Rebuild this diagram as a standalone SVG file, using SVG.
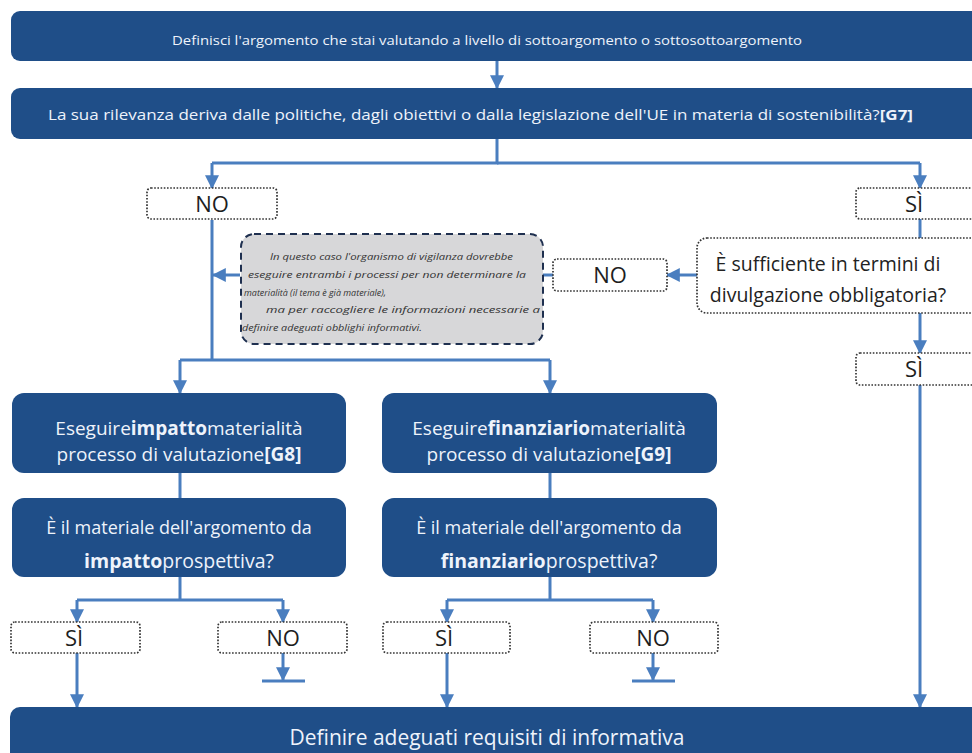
<svg xmlns="http://www.w3.org/2000/svg" width="972" height="753" viewBox="0 0 972 753">
  <style>
    .dark { fill: #1f4e88; }
    .wt { fill: #eef3fb; font-family: "Open Sans", "Noto Sans", sans-serif; }
    .lbl { fill: #ffffff; stroke: #333333; stroke-width: 1.7; stroke-dasharray: 1.6 1.6; }
    .lt { fill: #1e1e1e; font-family: "Open Sans", "Noto Sans", sans-serif; font-size: 22px; text-anchor: middle; }
    .q { fill: #222222; font-family: "Open Sans", "Noto Sans", sans-serif; font-size: 19.5px; text-anchor: middle; }
    .note { fill: #d7d7d9; stroke: #1f3050; stroke-width: 2; stroke-dasharray: 7 5; }
    .nt { fill: #333333; font-family: "Open Sans", "Noto Sans", sans-serif; font-size: 9px; font-style: italic; }
    .ln { fill: none; stroke: #4a7ebf; stroke-width: 3; }
    .arr { marker-end: url(#ah); }
    .b { font-weight: bold; }
  </style>
  <defs>
    <marker id="ah" markerUnits="userSpaceOnUse" markerWidth="14" markerHeight="14" viewBox="0 0 12 12" refX="11" refY="6" orient="auto">
      <path d="M0,0 L12,6 L0,12 z" fill="#4a7ebf"/>
    </marker>
  </defs>
  <rect width="972" height="753" fill="#ffffff"/>

  <!-- connectors -->
  <g id="connectors">
    <line class="ln arr" x1="497" y1="61" x2="497" y2="88"/>
    <polyline class="ln" points="497,139 497,163 212,163"/>
    <polyline class="ln" points="497,163 920,163"/>
    <line class="ln arr" x1="212" y1="163" x2="212" y2="188"/>
    <line class="ln arr" x1="920" y1="163" x2="920" y2="188"/>
    <line class="ln" x1="920" y1="219" x2="920" y2="238"/>
    <line class="ln arr" x1="697" y1="275" x2="667" y2="275"/>
    <line class="ln" x1="553" y1="275" x2="542" y2="275"/>
    <line class="ln arr" x1="240" y1="275" x2="213" y2="275"/>
    <line class="ln" x1="212" y1="220" x2="212" y2="360"/>
    <polyline class="ln" points="180,360 550,360"/>
    <line class="ln arr" x1="180" y1="360" x2="180" y2="393"/>
    <line class="ln arr" x1="550" y1="360" x2="550" y2="393"/>
    <line class="ln arr" x1="920" y1="313" x2="920" y2="353"/>
    <line class="ln arr" x1="920" y1="385" x2="920" y2="707"/>

    <line class="ln" x1="180" y1="473" x2="180" y2="498"/>
    <line class="ln" x1="550" y1="473" x2="550" y2="498"/>

    <polyline class="ln" points="180,577 180,600"/>
    <polyline class="ln" points="77,600 283,600"/>
    <line class="ln arr" x1="77" y1="600" x2="77" y2="622"/>
    <line class="ln arr" x1="283" y1="600" x2="283" y2="622"/>
    <line class="ln arr" x1="77" y1="653" x2="77" y2="707"/>
    <line class="ln arr" x1="283" y1="653" x2="283" y2="680"/>
    <line class="ln" x1="262" y1="681" x2="305" y2="681"/>

    <polyline class="ln" points="550,577 550,600"/>
    <polyline class="ln" points="447,600 653,600"/>
    <line class="ln arr" x1="447" y1="600" x2="447" y2="622"/>
    <line class="ln arr" x1="653" y1="600" x2="653" y2="622"/>
    <line class="ln arr" x1="447" y1="653" x2="447" y2="707"/>
    <line class="ln arr" x1="653" y1="653" x2="653" y2="680"/>
    <line class="ln" x1="632" y1="681" x2="675" y2="681"/>
  </g>

  <!-- top boxes -->
  <g id="define-topic">
    <rect class="dark" x="11" y="11" width="1000" height="50" rx="9"/>
    <text class="wt" x="172" y="45" font-size="12.5" textLength="630" lengthAdjust="spacingAndGlyphs">Definisci l'argomento che stai valutando a livello di sottoargomento o sottosottoargomento</text>
  </g>
  <g id="relevance-question">
    <rect class="dark" x="11" y="88" width="1000" height="51" rx="9"/>
    <text class="wt" x="48" y="120" font-size="14" textLength="865" lengthAdjust="spacingAndGlyphs">La sua rilevanza deriva dalle politiche, dagli obiettivi o dalla legislazione dell'UE in materia di sostenibilità?<tspan class="b">[G7]</tspan></text>
  </g>

  <!-- first-level answers -->
  <g id="no-1">
    <rect class="lbl" x="147" y="188" width="130" height="31" rx="4"/>
    <text class="lt" x="212" y="212">NO</text>
  </g>
  <g id="si-1">
    <rect class="lbl" x="856" y="188" width="150" height="31" rx="4"/>
    <text class="lt" x="914" y="212">SÌ</text>
  </g>

  <g id="disclosure-question">
    <rect class="lbl" x="697" y="238" width="320" height="75" rx="10"/>
    <text class="q" x="828" y="271">È sufficiente in termini di</text>
    <text class="q" x="828" y="302">divulgazione obbligatoria?</text>
  </g>
  <g id="no-2">
    <rect class="lbl" x="553" y="259" width="114" height="32" rx="4"/>
    <text class="lt" x="610" y="283">NO</text>
  </g>
  <g id="si-2">
    <rect class="lbl" x="856" y="353" width="150" height="32" rx="4"/>
    <text class="lt" x="914" y="377">SÌ</text>
  </g>

  <g id="note">
    <rect class="note" x="241" y="234" width="302" height="110" rx="13"/>
    <text class="nt" x="270" y="260" textLength="243" lengthAdjust="spacingAndGlyphs">In questo caso l'organismo di vigilanza dovrebbe</text>
    <text class="nt" x="248" y="278" textLength="278" lengthAdjust="spacingAndGlyphs">eseguire entrambi i processi per non determinare la</text>
    <text class="nt" x="244" y="296" textLength="142" lengthAdjust="spacingAndGlyphs">materialità (il tema è già materiale),</text>
    <text class="nt" x="266" y="313" textLength="274" lengthAdjust="spacingAndGlyphs">ma per raccogliere le informazioni necessarie a</text>
    <text class="nt" x="242" y="331" textLength="180" lengthAdjust="spacingAndGlyphs">definire adeguati obblighi informativi.</text>
  </g>

  <!-- impact branch -->
  <g id="impact-assessment">
    <rect class="dark" x="12" y="393" width="334" height="80" rx="12"/>
    <text class="wt" x="179" y="435" font-size="19" text-anchor="middle">Eseguire<tspan class="b">impatto</tspan>materialità</text>
    <text class="wt" x="179" y="461" font-size="19" text-anchor="middle">processo di valutazione<tspan class="b">[G8]</tspan></text>
  </g>
  <g id="impact-question">
    <rect class="dark" x="12" y="498" width="334" height="79" rx="12"/>
    <text class="wt" x="179" y="534" font-size="18" text-anchor="middle">È il materiale dell'argomento da</text>
    <text class="wt" x="179" y="568" font-size="19.5" text-anchor="middle"><tspan class="b">impatto</tspan>prospettiva?</text>
  </g>
  <g id="impact-si">
    <rect class="lbl" x="11" y="622" width="129" height="31" rx="4"/>
    <text class="lt" x="74" y="646">SÌ</text>
  </g>
  <g id="impact-no">
    <rect class="lbl" x="218" y="622" width="129" height="31" rx="4"/>
    <text class="lt" x="283" y="646">NO</text>
  </g>

  <!-- financial branch -->
  <g id="financial-assessment">
    <rect class="dark" x="382" y="393" width="335" height="80" rx="12"/>
    <text class="wt" x="549" y="435" font-size="19" text-anchor="middle">Eseguire<tspan class="b">finanziario</tspan>materialità</text>
    <text class="wt" x="549" y="461" font-size="19" text-anchor="middle">processo di valutazione<tspan class="b">[G9]</tspan></text>
  </g>
  <g id="financial-question">
    <rect class="dark" x="382" y="498" width="335" height="79" rx="12"/>
    <text class="wt" x="549" y="534" font-size="18" text-anchor="middle">È il materiale dell'argomento da</text>
    <text class="wt" x="549" y="568" font-size="19.5" text-anchor="middle"><tspan class="b">finanziario</tspan>prospettiva?</text>
  </g>
  <g id="financial-si">
    <rect class="lbl" x="383" y="622" width="127" height="31" rx="4"/>
    <text class="lt" x="444" y="646">SÌ</text>
  </g>
  <g id="financial-no">
    <rect class="lbl" x="590" y="622" width="128" height="31" rx="4"/>
    <text class="lt" x="653" y="646">NO</text>
  </g>

  <!-- outcome -->
  <g id="disclosure-requirements">
    <rect class="dark" x="10" y="707" width="1000" height="70" rx="10"/>
    <text class="wt" x="487" y="745" font-size="21" text-anchor="middle">Definire adeguati requisiti di informativa</text>
  </g>
</svg>
